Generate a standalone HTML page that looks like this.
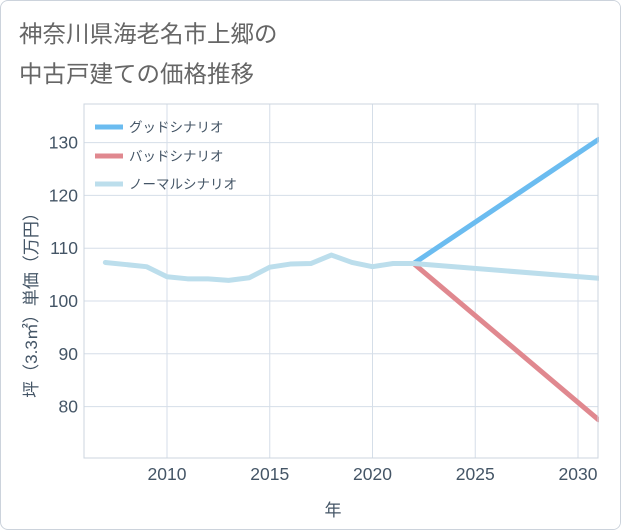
<!DOCTYPE html>
<html><head><meta charset="utf-8"><style>
body{margin:0;background:#fff;font-family:"Liberation Sans","Noto Sans CJK JP",sans-serif;}
#wrap{position:relative;width:619px;height:528px;border:1px solid #ccd3dc;border-radius:8px;overflow:hidden;}
</style></head><body>
<div id="wrap">
<svg id="c" width="621" height="530"></svg>
</div>
<script>
const years=[2007,2008,2009,2010,2011,2012,2013,2014,2015,2016,2017,2018,2019,2020,2021,2022];
const normalHist=[107.3,106.9,106.5,104.6,104.2,104.2,103.9,104.4,106.4,107.0,107.1,108.7,107.3,106.5,107.1,107.1];
const projYears=[2022,2031];
const good=[107.1,130.6];
const bad=[107.1,77.5];
const normalProj=[107.1,104.3];
const xTicks=[2010,2015,2020,2025,2030];
const yTicks=[80,90,100,110,120,130];
const NS="http://www.w3.org/2000/svg";
const svg=document.getElementById('c');
const L=83,R=597,T=103,B=457;
const x=v=>166+(v-2010)*20.55;
const y=v=>300-(v-100)*5.28;
function el(t,a,txt){const e=document.createElementNS(NS,t);for(const k in a)e.setAttribute(k,a[k]);if(txt!==undefined)e.textContent=txt;svg.appendChild(e);return e;}
let t1=el('text',{x:18,y:41,'font-size':23.5,fill:'#666'},'神奈川県海老名市上郷の');

let t2=el('text',{x:18,y:81,'font-size':23.5,fill:'#666'},'中古戸建ての価格推移');

xTicks.forEach(v=>{let g=el('line',{x1:x(v),x2:x(v),y1:T,y2:B,stroke:'#d5dee8'});
let t=el('text',{x:x(v),y:479,'font-size':17.5,fill:'#445566','text-anchor':'middle'},v);});
yTicks.forEach(v=>{let g=el('line',{x1:L,x2:R,y1:y(v),y2:y(v),stroke:'#d5dee8'});
let t=el('text',{x:77,y:y(v)+6,'font-size':17.5,fill:'#445566','text-anchor':'end'},v);});
let ax=el('path',{d:`M${L},${T}V${B}`,stroke:'#555',fill:'none'});
let bx=el('rect',{x:L,y:T,width:R-L,height:B-T,fill:'none',stroke:'#ccd5df'});
function line(xs,vs,c,name){let p=el('polyline',{points:xs.map((v,i)=>x(v)+','+y(vs[i])).join(' '),fill:'none',stroke:c,'stroke-width':5,'stroke-linejoin':'round','stroke-linecap':'round'});}
line(projYears,good,'#6bbcf0','good-scenario-line');
line(projYears,bad,'#e0888f','bad-scenario-line');
line(years,normalHist,'#bcdeec','normal-history-line');
line(projYears,normalProj,'#bcdeec','normal-scenario-line');
let m=el('rect',{x:R+1,y:0,width:30,height:530,fill:'#fff'});
let rb=el('line',{x1:R,x2:R,y1:T,y2:B,stroke:'#ccd5df'});
const legend=[['グッドシナリオ','#6bbcf0',126],['バッドシナリオ','#e0888f',155],['ノーマルシナリオ','#bcdeec',183]];
legend.forEach(([n,c,yy])=>{let l=el('line',{x1:94,x2:122,y1:yy,y2:yy,stroke:c,'stroke-width':5});
let t=el('text',{x:128,y:yy+5,'font-size':13.5,fill:'#445566'},n);});
let xt=el('text',{x:332,y:515,'font-size':17,fill:'#445566','text-anchor':'middle'},'年');
let yt=el('text',{x:0,y:0,'font-size':17,fill:'#445566','text-anchor':'middle',transform:'translate(36,300) rotate(-90)'},'坪（3.3㎡）単価（万円）');
</script>
</body></html>
